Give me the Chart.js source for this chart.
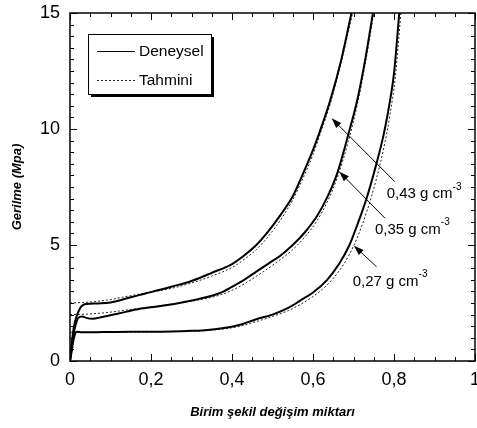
<!DOCTYPE html>
<html>
<head>
<meta charset="utf-8">
<script src="https://cdn.jsdelivr.net/npm/chart.js@4.4.0/dist/chart.umd.min.js"></script>
<style>
  html, body { margin: 0; padding: 0; background: #fff; }
</style>
</head>
<body>
<canvas id="stress-canvas" width="477" height="428"></canvas>
<script>
// strain / stress readings for the three densities (Deneysel = measured, Tahmini = predicted)
var strain43 = [0, 0.004, 0.008, 0.013, 0.02, 0.028, 0.036, 0.05, 0.07, 0.1, 0.13, 0.17, 0.2, 0.25, 0.3, 0.35, 0.4, 0.43, 0.46, 0.49, 0.52, 0.55, 0.576, 0.6, 0.617, 0.642, 0.67, 0.695];
var stress43Exp = [0, 0.7, 1.3, 1.75, 2.1, 2.35, 2.45, 2.47, 2.48, 2.52, 2.65, 2.84, 2.97, 3.2, 3.45, 3.8, 4.18, 4.55, 5.0, 5.6, 6.3, 7.1, 8.1, 9.1, 9.9, 11.2, 13.0, 15];
var strain43Est = [0, 0.03, 0.06, 0.1, 0.13, 0.17, 0.2, 0.25, 0.3, 0.35, 0.4, 0.43, 0.46, 0.49, 0.52, 0.55, 0.576, 0.6, 0.617, 0.642, 0.67, 0.698];
var stress43Est = [2.5, 2.52, 2.56, 2.65, 2.75, 2.88, 2.97, 3.13, 3.36, 3.66, 4.03, 4.38, 4.8, 5.38, 6.08, 6.95, 7.9, 8.9, 9.75, 11.05, 12.9, 15];

var strain35 = [0, 0.004, 0.008, 0.013, 0.02, 0.03, 0.04, 0.055, 0.08, 0.12, 0.17, 0.22, 0.27, 0.32, 0.37, 0.4, 0.43, 0.46, 0.49, 0.52, 0.55, 0.58, 0.61, 0.635, 0.66, 0.687, 0.71, 0.73, 0.748];
var stress35Exp = [0, 0.6, 1.1, 1.5, 1.85, 1.92, 1.86, 1.82, 1.9, 2.05, 2.24, 2.36, 2.5, 2.68, 2.93, 3.2, 3.5, 3.85, 4.2, 4.55, 5.0, 5.55, 6.25, 7.05, 8.1, 9.75, 11.3, 13.1, 15];
var strain35Est = [0, 0.04, 0.08, 0.12, 0.17, 0.22, 0.27, 0.32, 0.37, 0.4, 0.43, 0.46, 0.49, 0.52, 0.55, 0.58, 0.61, 0.635, 0.66, 0.687, 0.71, 0.73, 0.75];
var stress35Est = [2.0, 2.02, 2.07, 2.15, 2.27, 2.38, 2.5, 2.64, 2.84, 3.05, 3.32, 3.65, 4.0, 4.38, 4.8, 5.35, 6.05, 6.85, 7.9, 9.45, 11.1, 12.9, 15];

var strain27 = [0, 0.004, 0.008, 0.012, 0.017, 0.03, 0.06, 0.1, 0.15, 0.2, 0.25, 0.3, 0.34, 0.38, 0.42, 0.46, 0.5, 0.54, 0.57, 0.6, 0.635, 0.665, 0.69, 0.71, 0.733, 0.755, 0.775, 0.79, 0.8, 0.813];
var stress27Exp = [0, 0.4, 0.85, 1.15, 1.26, 1.24, 1.24, 1.25, 1.26, 1.26, 1.27, 1.3, 1.34, 1.42, 1.56, 1.8, 2.0, 2.3, 2.62, 2.95, 3.5, 4.2, 5.0, 5.9, 7.05, 8.4, 9.8, 11.2, 12.4, 15];
var strain27Est = [0, 0.05, 0.1, 0.15, 0.2, 0.25, 0.3, 0.34, 0.38, 0.42, 0.46, 0.5, 0.54, 0.57, 0.6, 0.635, 0.665, 0.69, 0.71, 0.733, 0.755, 0.775, 0.79, 0.803, 0.817];
var stress27Est = [1.24, 1.24, 1.25, 1.25, 1.26, 1.27, 1.29, 1.32, 1.38, 1.5, 1.7, 1.92, 2.18, 2.45, 2.78, 3.28, 3.9, 4.6, 5.35, 6.45, 7.75, 9.2, 10.6, 12.2, 15];

var legendLabels = ['Deneysel', 'Tahmini'];
var densityLabels = ['0,43 g cm', '0,35 g cm', '0,27 g cm'];
var xTicks = [0, 0.2, 0.4, 0.6, 0.8, 1];
var yTicks = [0, 5, 10, 15];

var fontFamily = '"Liberation Sans", Arial, sans-serif';

function toPoints(xs, ys) {
  return xs.map(function (x, i) { return { x: x, y: ys[i] }; });
}

function solidSet(xs, ys) {
  return {
    data: toPoints(xs, ys),
    borderColor: '#000',
    borderWidth: 2,
    pointRadius: 0,
    showLine: true,
    cubicInterpolationMode: 'monotone'
  };
}

function dottedSet(xs, ys) {
  return {
    data: toPoints(xs, ys),
    borderColor: '#222',
    borderWidth: 1,
    borderDash: [2, 2],
    pointRadius: 0,
    showLine: true,
    cubicInterpolationMode: 'monotone'
  };
}

// arrows: tip and tail in data units, label left/middle in data units
var arrows = [
  { tip: [0.646, 10.46], tail: [0.802, 7.73], label: [0.782, 7.19] },
  { tip: [0.665, 8.16], tail: [0.778, 6.15], label: [0.753, 5.66] },
  { tip: [0.701, 4.97], tail: [0.757, 4.06], label: [0.698, 3.42] }
];

function drawArrow(ctx, x1, y1, x2, y2) {
  // x1,y1 = tail, x2,y2 = tip
  let ang = Math.atan2(y2 - y1, x2 - x1);
  ctx.beginPath();
  ctx.moveTo(x1, y1);
  ctx.lineTo(x2 - 6 * Math.cos(ang), y2 - 6 * Math.sin(ang));
  ctx.stroke();
  ctx.beginPath();
  ctx.moveTo(x2, y2);
  ctx.lineTo(x2 - 10 * Math.cos(ang) + 3.5 * Math.sin(ang), y2 - 10 * Math.sin(ang) - 3.5 * Math.cos(ang));
  ctx.lineTo(x2 - 10 * Math.cos(ang) - 3.5 * Math.sin(ang), y2 - 10 * Math.sin(ang) + 3.5 * Math.cos(ang));
  ctx.closePath();
  ctx.fill();
}

var decorPlugin = {
  id: 'decor',
  afterDatasetsDraw: function (chart) {
    let ctx = chart.ctx;
    let area = chart.chartArea;
    let xs = chart.scales.x;
    let ys = chart.scales.y;
    ctx.save();
    ctx.strokeStyle = '#000';
    ctx.fillStyle = '#000';

    // frame
    ctx.lineWidth = 1.5;
    ctx.strokeRect(area.left, area.top, area.right - area.left, area.bottom - area.top);

    // inward ticks on all four sides
    ctx.lineWidth = 1;
    ctx.beginPath();
    for (let i = 0; i <= 20; i++) {
      let px = Math.round(xs.getPixelForValue(i * 0.05)) + 0.5;
      let len = (i % 4 === 0) ? 7 : 4;
      ctx.moveTo(px, area.bottom); ctx.lineTo(px, area.bottom - len);
      ctx.moveTo(px, area.top); ctx.lineTo(px, area.top + len);
    }
    for (let j = 0; j <= 30; j++) {
      let py = Math.round(ys.getPixelForValue(j * 0.5)) + 0.5;
      let len = (j % 10 === 0) ? 7 : 4;
      ctx.moveTo(area.left, py); ctx.lineTo(area.left + len, py);
      ctx.moveTo(area.right, py); ctx.lineTo(area.right - len, py);
    }
    ctx.stroke();

    // legend box with shadow
    let bx = 88, by = 34, bw = 123, bh = 60;
    ctx.fillRect(bx + 3, by + 3, bw, bh);
    ctx.fillStyle = '#fff';
    ctx.fillRect(bx, by, bw, bh);
    ctx.strokeRect(bx + 0.5, by + 0.5, bw, bh);
    ctx.fillStyle = '#000';
    ctx.beginPath();
    ctx.moveTo(97, 51.5); ctx.lineTo(135, 51.5);
    ctx.stroke();
    ctx.strokeStyle = '#222';
    ctx.setLineDash([2, 2]);
    ctx.beginPath();
    ctx.moveTo(97, 80.5); ctx.lineTo(135, 80.5);
    ctx.stroke();
    ctx.setLineDash([]);
    ctx.strokeStyle = '#000';
    ctx.font = '15.5px ' + fontFamily;
    ctx.textBaseline = 'middle';
    ctx.textAlign = 'left';
    ctx.fillText(legendLabels[0], 139, 52);
    ctx.fillText(legendLabels[1], 139, 81);

    // density arrows and labels
    ctx.lineWidth = 1;
    arrows.forEach(function (a, k) {
      drawArrow(ctx,
        xs.getPixelForValue(a.tail[0]), ys.getPixelForValue(a.tail[1]),
        xs.getPixelForValue(a.tip[0]), ys.getPixelForValue(a.tip[1]));
      let lx = xs.getPixelForValue(a.label[0]);
      let ly = ys.getPixelForValue(a.label[1]);
      ctx.font = '15px ' + fontFamily;
      ctx.fillText(densityLabels[k], lx, ly);
      let w = ctx.measureText(densityLabels[k]).width;
      ctx.font = '10px ' + fontFamily;
      ctx.fillText('-3', lx + w, ly - 7);
    });
    ctx.restore();
  }
};

var config = {
  type: 'scatter',
  data: {
    datasets: [
      solidSet(strain43, stress43Exp),
      dottedSet(strain43Est, stress43Est),
      solidSet(strain35, stress35Exp),
      dottedSet(strain35Est, stress35Est),
      solidSet(strain27, stress27Exp),
      dottedSet(strain27Est, stress27Est)
    ]
  },
  options: {
    responsive: false,
    animation: false,
    layout: { padding: { top: 13, right: 2, left: 0, bottom: 0 } },
    plugins: { legend: { display: false }, tooltip: { enabled: false } },
    scales: {
      x: {
        type: 'linear',
        min: 0,
        max: 1,
        grid: { display: false, drawTicks: false },
        border: { display: false },
        afterBuildTicks: function (scale) {
          scale.ticks = xTicks.map(function (v) { return { value: v }; });
        },
        afterFit: function (scale) {
          scale.height = 67;
          scale.paddingLeft = 0;
          scale.paddingRight = 0;
        },
        ticks: {
          color: '#000',
          padding: 8,
          maxRotation: 0,
          font: { family: fontFamily, size: 18 },
          callback: function (v) { return String(v).replace('.', ','); }
        },
        title: {
          display: true,
          text: 'Birim şekil değişim miktarı',
          color: '#000',
          padding: { top: 0, bottom: 8 },
          font: { family: fontFamily, size: 13, weight: 'bold', style: 'italic' }
        }
      },
      y: {
        type: 'linear',
        min: 0,
        max: 15,
        grid: { display: false, drawTicks: false },
        border: { display: false },
        afterBuildTicks: function (scale) {
          scale.ticks = yTicks.map(function (v) { return { value: v }; });
        },
        afterFit: function (scale) {
          scale.width = 70;
          scale.paddingTop = 0;
          scale.paddingBottom = 0;
        },
        ticks: {
          color: '#000',
          padding: 10,
          font: { family: fontFamily, size: 18 }
        },
        title: {
          display: true,
          text: 'Gerilme (Mpa)',
          color: '#000',
          padding: { top: 10, bottom: 0 },
          font: { family: fontFamily, size: 13, weight: 'bold', style: 'italic' }
        }
      }
    }
  },
  plugins: [decorPlugin]
};

let myChart = new Chart(document.querySelector('#stress-canvas'), config);
</script>
</body>
</html>
